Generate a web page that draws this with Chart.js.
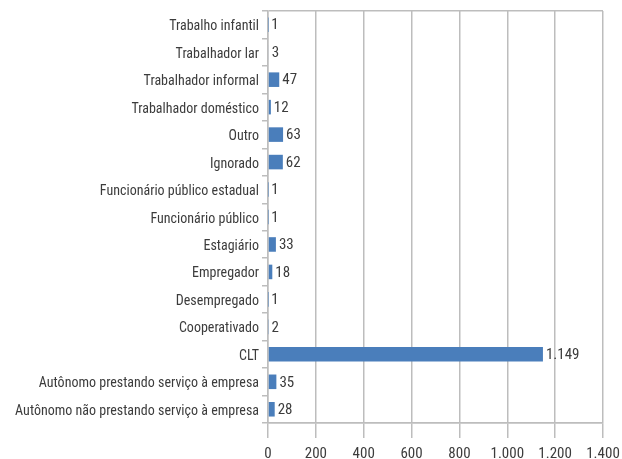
<!DOCTYPE html>
<html>
<head>
<meta charset="utf-8">
<script src="https://cdn.jsdelivr.net/npm/chart.js@4.4.1/dist/chart.umd.min.js"></script>
<style>
  html, body { margin: 0; padding: 0; background: #fff; }
  #wrap { width: 622px; height: 459px; }
</style>
</head>
<body>
<div id="wrap"><canvas id="myChart" width="622" height="459"></canvas></div>
<script>
const categories = [
    'Trabalho infantil',
    'Trabalhador lar',
    'Trabalhador informal',
    'Trabalhador doméstico',
    'Outro',
    'Ignorado',
    'Funcionário público estadual',
    'Funcionário público',
    'Estagiário',
    'Empregador',
    'Desempregado',
    'Cooperativado',
    'CLT',
    'Autônomo prestando serviço à empresa',
    'Autônomo não prestando serviço à empresa'
];
const values = [1, 3, 47, 12, 63, 62, 1, 1, 33, 18, 1, 2, 1149, 35, 28];
const xTicks = [0, 200, 400, 600, 800, 1000, 1200, 1400];

// "condensed" goes in the weight slot so the font string picks Roboto Condensed
const FONT = 'Roboto, sans-serif';
const STRETCH = 'condensed';
const GRID = '#bdbdbd';
const TEXT = '#3c3c3c';

// thousands with a dot, as in pt-BR
function fmt(v) {
    return String(v).replace(/\B(?=(\d{3})+(?!\d))/g, '.');
}

// value labels at the end of each bar
const barLabels = {
    id: 'barLabels',
    afterDatasetsDraw(chart) {
        const ctx = chart.ctx;
        const meta = chart.getDatasetMeta(0);
        ctx.save();
        ctx.font = STRETCH + ' 15px ' + FONT;
        ctx.fillStyle = TEXT;
        ctx.textAlign = 'left';
        ctx.textBaseline = 'middle';
        meta.data.forEach((bar, i) => {
            ctx.fillText(fmt(chart.data.datasets[0].data[i]), bar.x + 3, bar.y + 1);
        });
        ctx.restore();
    }
};

window.onload = function() {
    const ctx = document.getElementById('myChart').getContext('2d');
    new Chart(ctx, {
        type: 'bar',
        data: {
            labels: categories,
            datasets: [{
                data: values,
                backgroundColor: '#4A7EBB',
                borderWidth: 0,
                barPercentage: 0.53,
                categoryPercentage: 1
            }]
        },
        plugins: [barLabels],
        options: {
            indexAxis: 'y',
            responsive: false,
            animation: false,
            events: [],
            layout: { padding: { top: 11, right: 19, bottom: 0, left: 0 } },
            plugins: {
                legend: { display: false },
                tooltip: { enabled: false },
                title: { display: false }
            },
            scales: {
                x: {
                    min: xTicks[0],
                    max: xTicks[xTicks.length - 1],
                    afterBuildTicks: (scale) => { scale.ticks = xTicks.map(v => ({ value: v })); },
                    afterFit: (scale) => {
                        scale.height = 36;
                        scale.paddingLeft = 0;
                        scale.paddingRight = 0;
                    },
                    grid: { color: GRID, lineWidth: 1.5, tickLength: 15 },
                    border: { display: true, color: GRID, width: 1.5 },
                    ticks: {
                        padding: 7,
                        color: TEXT,
                        font: { family: FONT, size: 15, weight: STRETCH },
                        maxRotation: 0,
                        callback: (v) => fmt(v)
                    }
                },
                y: {
                    afterFit: (scale) => {
                        scale.width = 268;
                        scale.paddingTop = 0;
                        scale.paddingBottom = 0;
                    },
                    grid: {
                        offset: true,
                        lineWidth: 1.5,
                        tickLength: 6,
                        tickColor: GRID,
                        color: (c) => (c.index === 0 || c.index === undefined) ? GRID : 'rgba(0,0,0,0)'
                    },
                    border: { display: true, color: GRID, width: 1.5 },
                    ticks: {
                        padding: 3,
                        labelOffset: 2,
                        color: TEXT,
                        font: { family: FONT, size: 14, weight: STRETCH },
                        autoSkip: false
                    }
                }
            }
        }
    });
};
</script>
</body>
</html>
